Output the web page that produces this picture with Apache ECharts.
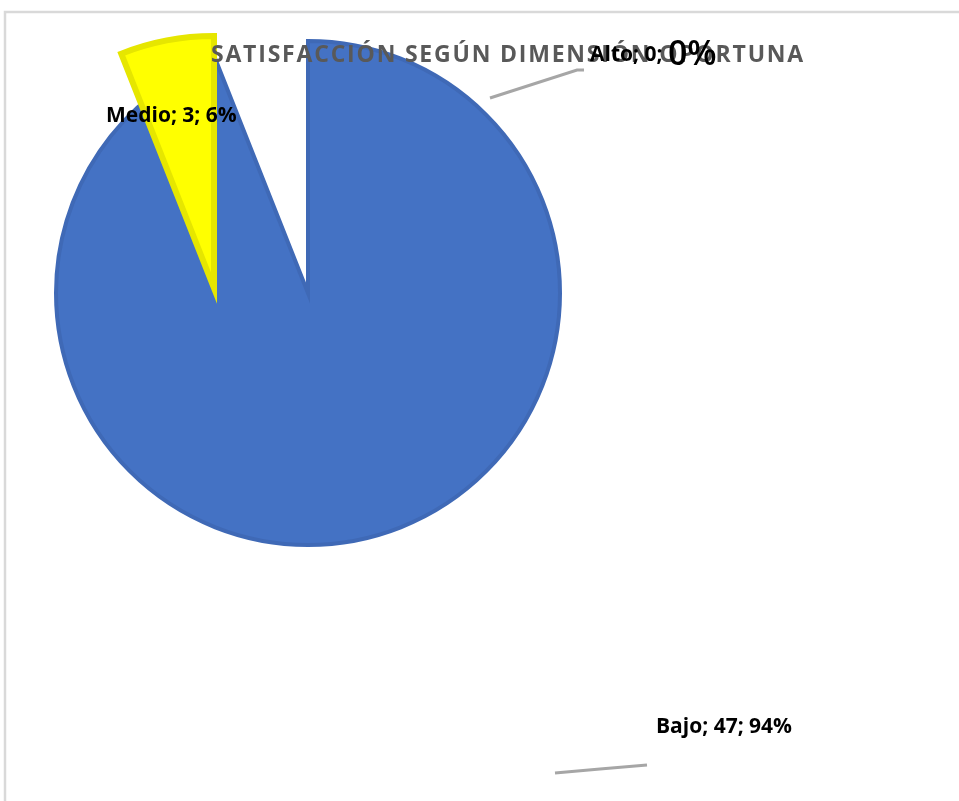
<!DOCTYPE html>
<html>
<head>
<meta charset="utf-8">
<script src="https://cdn.jsdelivr.net/npm/echarts@6/dist/echarts.min.js"></script>
<style>
  html, body { margin: 0; padding: 0; background: #ffffff; }
  #chart { width: 959px; height: 801px; }
</style>
</head>
<body>
<div id="chart"></div>
<script>
// Levels of satisfaction and their counts
const categories = ['Bajo', 'Medio', 'Alto'];
const counts = [47, 3, 0];
const sliceColors = ['#4472C4', '#FFFF00', '#A5A5A5'];
const sliceBorders = ['#3F69B6', '#E6E600', '#A5A5A5'];
const chartTitle = 'SATISFACCIÓN SEGÚN DIMENSIÓN OPORTUNA';

const FONT = '"Open Sans", Lato, sans-serif';
const hidden = { color: 'rgba(0,0,0,0)', borderWidth: 0 };

// Spaced-out capitals: every character becomes its own rich-text token
function spaced(text) {
  return text.split('').map(function (ch) { return '{t|' + ch + '}'; }).join('');
}

// Placement of each category's label and leader line
const labelSpots = {
  Bajo:  { x: 656, y: 727, line: [[555, 773], [600, 769], [647, 765]] },
  Medio: { x: 106, y: 116, line: null },
  Alto:  { x: 590, y: 55,  line: [[490, 98], [577, 70], [584, 70]] }
};

// Build one pie layer: only the categories in `visible` are painted / labelled
function layer(visible, labelled, center, z) {
  return {
    type: 'pie',
    z: z,
    center: center,
    radius: 252,
    startAngle: 90,
    clockwise: true,
    avoidLabelOverlap: false,
    percentPrecision: 0,
    animation: false,
    silent: true,
    label: {
      show: true,
      position: 'outside',
      formatter: function (p) {
        return p.name === 'Alto'
          ? '{a|' + p.name + '; ' + p.value + '; }{big|' + p.percent + '%}'
          : '{a|' + p.name + '; ' + p.value + '; ' + p.percent + '%}';
      },
      rich: {
        a: { fontFamily: FONT, fontWeight: 'bold', fontSize: 21, color: '#000000' },
        big: { fontFamily: FONT, fontWeight: 600, fontSize: 34, color: '#000000' }
      }
    },
    labelLine: { show: true, lineStyle: { color: '#A6A6A6', width: 3 } },
    labelLayout: function (params) {
      const name = categories[params.dataIndex];
      const spot = labelSpots[name];
      const out = { x: spot.x, y: spot.y, align: 'left', verticalAlign: 'middle' };
      if (spot.line) out.labelLinePoints = spot.line;
      return out;
    },
    data: categories.map(function (name, i) {
      const isVisible = visible.indexOf(name) >= 0;
      const isLabelled = labelled.indexOf(name) >= 0;
      return {
        name: name,
        value: counts[i],
        itemStyle: isVisible
          ? { color: sliceColors[i], borderColor: sliceBorders[i], borderWidth: name === 'Medio' ? 6 : 4, borderJoin: 'miter' }
          : hidden,
        label: { show: isLabelled },
        labelLine: { show: isLabelled && !!labelSpots[name].line }
      };
    })
  };
}

const chart = echarts.init(document.getElementById('chart'), null, { renderer: 'canvas' });
chart.setOption({
  backgroundColor: '#ffffff',
  title: {
    text: spaced(chartTitle),
    left: 503,
    top: 39,
    textAlign: 'center',
    z: 2,
    textStyle: {
      rich: {
        t: { fontFamily: FONT, fontWeight: 'bold', fontSize: 23, color: '#595959', padding: [0, 1.8, 0, 0] }
      }
    }
  },
  graphic: [{
    type: 'rect',
    z: -1,
    shape: { x: 5, y: 12, width: 970, height: 800 },
    style: { fill: 'none', stroke: '#D9D9D9', lineWidth: 2.5 }
  }],
  series: [
    layer(['Bajo'], ['Bajo'], [308, 293], 1),
    layer(['Medio'], ['Medio'], [214, 288], 1),
    layer([], ['Alto'], [308, 293], 3)
  ]
});
</script>
</body>
</html>
